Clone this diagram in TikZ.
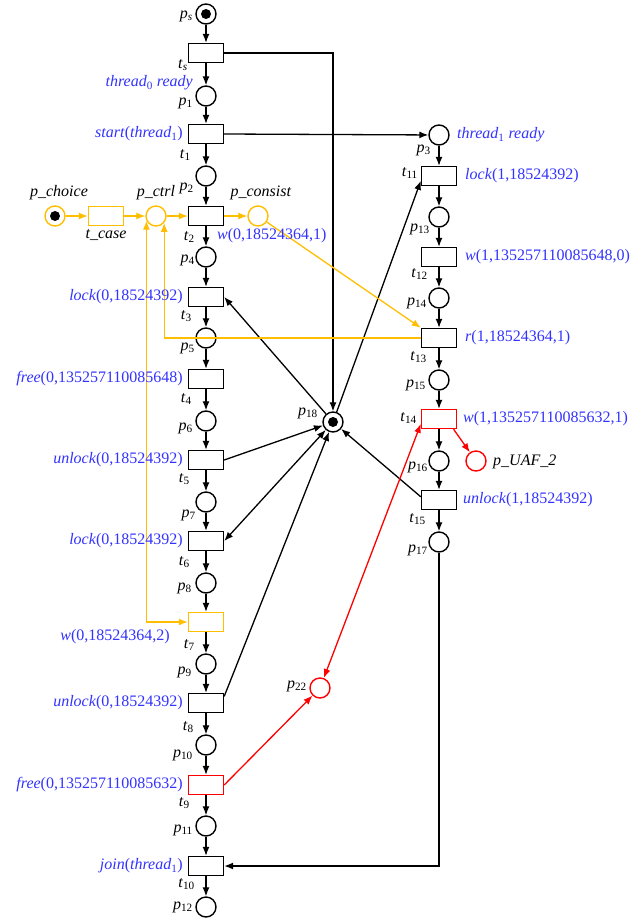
\documentclass[tikz,border=0pt]{standalone}
\usepackage{fontspec}
\setmainfont{Liberation Serif}
\usetikzlibrary{arrows.meta}
\definecolor{lblue}{HTML}{3333FF}
\definecolor{amber}{HTML}{FFBF00}
\definecolor{pred}{HTML}{FF0000}
\newcommand\plab[1]{\textit{p}\textsubscript{#1}}
\newcommand\tlab[1]{\textit{t}\textsubscript{#1}}
\tikzset{
  place/.style={circle,draw,line width=1.4pt,minimum size=20pt,inner sep=0pt},
  trans/.style={rectangle,draw,line width=1.4pt,minimum width=35pt,minimum height=19pt,inner sep=0pt},
  tok/.style={circle,fill=black,minimum size=10pt,inner sep=0pt},
  arc/.style={-{Latex[length=9pt,width=7pt]},line width=1.3pt},
  biarc/.style={{Latex[length=9pt,width=7pt]}-{Latex[length=9pt,width=7pt]},line width=1.3pt},
  lab/.style={font=\fontsize{16}{18}\selectfont,inner sep=0pt},
  fn/.style={lab,text=lblue},
}
\begin{document}
\begin{tikzpicture}[x=1pt,y=-1pt]
\useasboundingbox[fill=white] (0,0) rectangle (632,919);
% left column
\node[place] (ps) at (206,14) {}; \node[tok] (psd) at (ps) {};
\node[trans] (ts) at (206,53) {};
\node[place] (p1) at (206,96) {};
\node[trans] (t1) at (206,134) {};
\node[place] (p2) at (206,176) {};
\node[trans] (t2) at (206,216) {};
\node[place] (p4) at (206,257) {};
\node[trans] (t3) at (206,297) {};
\node[place] (p5) at (206,338) {};
\node[trans] (t4) at (206,379) {};
\node[place] (p6) at (206,421) {};
\node[trans] (t5) at (206,460) {};
\node[place] (p7) at (206,502) {};
\node[trans] (t6) at (206,541) {};
\node[place] (p8) at (206,583) {};
\node[trans,draw=amber] (t7) at (206,622) {};
\node[place] (p9) at (206,664) {};
\node[trans] (t8) at (206,703) {};
\node[place] (p10) at (206,745) {};
\node[trans,draw=pred] (t9) at (206,785) {};
\node[place] (p11) at (206,826) {};
\node[trans] (t10) at (206,866) {};
\node[place] (p12) at (206,907) {};
% right column
\node[place] (p3) at (439,135) {};
\node[trans] (t11) at (439,176) {};
\node[place] (p13) at (439,217) {};
\node[trans] (t12) at (439,257) {};
\node[place] (p14) at (439,298) {};
\node[trans] (t13) at (439,338) {};
\node[place] (p15) at (439,380) {};
\node[trans,draw=pred] (t14) at (439,419) {};
\node[place] (p16) at (439,461) {};
\node[trans] (t15) at (439,500) {};
\node[place] (p17) at (439,542) {};
\node[place,draw=pred] (puaf) at (476,461) {};
% shared places
\node[place] (p18) at (333,422) {}; \node[tok] (p18d) at (p18) {};
\node[place,draw=pred] (p22) at (320,688) {};
% orange part
\node[place,draw=amber] (pchoice) at (55,216) {}; \node[tok] (pchd) at (pchoice) {};
\node[trans,draw=amber] (tcase) at (106,216) {};
\node[place,draw=amber] (pctrl) at (156,216) {};
\node[place,draw=amber] (pconsist) at (258,216) {};

% column arcs
\foreach \a/\b in {ps/ts,ts/p1,p1/t1,t1/p2,p2/t2,t2/p4,p4/t3,t3/p5,p5/t4,t4/p6,p6/t5,t5/p7,p7/t6,t6/p8,p8/t7,t7/p9,p9/t8,t8/p10,p10/t9,t9/p11,p11/t10,t10/p12,
  p3/t11,t11/p13,p13/t12,t12/p14,p14/t13,t13/p15,p15/t14,t14/p16,p16/t15,t15/p17}
  \draw[arc] (\a) -- (\b);

% long black arcs
\draw[arc] (ts.east) -| (p18.north);
\draw[arc] (t1.east) -- (p3);
\draw[arc] (p18) -- (t11.-165);
\draw[arc] (p18) -- (t3.east);
\draw[arc] (t5.east) -- (p18);
\draw[biarc] (p18) -- (t6.east);
\draw[arc] (t8.20) -- (p18);
\draw[arc] (t15.170) -- (p18);
\draw[arc] (p17.south) |- (t10.east);

% red arcs
\draw[arc,pred] (t9.east) -- (p22);
\draw[biarc,pred] (p22) -- (t14.-165);
\draw[arc,pred] (t14.-35) -- (puaf);

% orange arcs
\draw[arc,amber] (pchoice) -- (tcase);
\draw[arc,amber] (tcase) -- (pctrl);
\draw[arc,amber] (pctrl) -- (t2);
\draw[arc,amber] (t2) -- (pconsist);
\draw[arc,amber] (pconsist) -- (t13.north west);
\draw[arc,amber] (t13.west) -- (t13.west -| pctrl.-40) -- (pctrl.-40);
\draw[biarc,amber] (t7.west) -- (t7.west -| pctrl.-154) -- (pctrl.-154);

% place labels (left)
\node[lab,anchor=east] (lps) at (193,16) {\textit{p}\textsubscript{\textit{s}}};
\node[lab,anchor=east] (lp1) at (193,103) {\plab{1}};
\node[lab,anchor=east] (lp2) at (194,188) {\plab{2}};
\node[lab,anchor=east] (lp4) at (195,260) {\plab{4}};
\node[lab,anchor=east] (lp5) at (195,348) {\plab{5}};
\node[lab,anchor=east] (lp6) at (193,428) {\plab{6}};
\node[lab,anchor=east] (lp7) at (196,515) {\plab{7}};
\node[lab,anchor=east] (lp8) at (192,588) {\plab{8}};
\node[lab,anchor=east] (lp9) at (192,672) {\plab{9}};
\node[lab,anchor=east] (lp10) at (193,755) {\plab{10}};
\node[lab,anchor=east] (lp11) at (193,830) {\plab{11}};
\node[lab,anchor=east] (lp12) at (193,907) {\plab{12}};
% transition labels (left)
\node[lab,anchor=east] (lts) at (188,65) {\textit{t}\textsubscript{\textit{s}}};
\node[lab,anchor=east] (lt1) at (191,155) {\tlab{1}};
\node[lab,anchor=east] (lt2) at (195,237) {\tlab{2}};
\node[lab,anchor=east] (lt3) at (192,316) {\tlab{3}};
\node[lab,anchor=east] (lt4) at (192,399) {\tlab{4}};
\node[lab,anchor=east] (lt5) at (190,479) {\tlab{5}};
\node[lab,anchor=east] (lt6) at (190,562) {\tlab{6}};
\node[lab,anchor=east] (lt7) at (195,645) {\tlab{7}};
\node[lab,anchor=east] (lt8) at (194,727) {\tlab{8}};
\node[lab,anchor=east] (lt9) at (190,803) {\tlab{9}};
\node[lab,anchor=east] (lt10) at (195,884) {\tlab{10}};
% function labels (left)
\node[fn,anchor=east] (f0) at (193,83) {\textit{thread}\textsubscript{0} \textit{ready}};
\node[fn,anchor=east] (f1) at (183,134) {\textit{start}(\textit{thread}\textsubscript{1})};
\node[fn,anchor=west] (f2) at (217,236) {\textit{w}(0,18524364,1)};
\node[fn,anchor=east] (f3) at (183,297) {\textit{lock}(0,18524392)};
\node[fn,anchor=east] (f4) at (183,379) {\textit{free}(0,135257110085648)};
\node[fn,anchor=east] (f5) at (183,460) {\textit{unlock}(0,18524392)};
\node[fn,anchor=east] (f6) at (183,541) {\textit{lock}(0,18524392)};
\node[fn,anchor=east] (f7) at (170,637) {\textit{w}(0,18524364,2)};
\node[fn,anchor=east] (f8) at (183,703) {\textit{unlock}(0,18524392)};
\node[fn,anchor=east] (f9) at (183,785) {\textit{free}(0,135257110085632)};
\node[fn,anchor=east] (f10) at (183,866) {\textit{join}(\textit{thread}\textsubscript{1})};
% right labels
\node[lab,anchor=east] (lp3) at (431,150) {\plab{3}};
\node[lab,anchor=east] (lt11) at (418,173) {\tlab{11}};
\node[lab,anchor=east] (lp13) at (430,229) {\plab{13}};
\node[lab,anchor=east] (lt12) at (428,274) {\tlab{12}};
\node[lab,anchor=east] (lp14) at (427,303) {\plab{14}};
\node[lab,anchor=east] (lt13) at (427,357) {\tlab{13}};
\node[lab,anchor=east] (lp15) at (426,385) {\plab{15}};
\node[lab,anchor=east] (lt14) at (417,418) {\tlab{14}};
\node[lab,anchor=east] (lp16) at (428,467) {\plab{16}};
\node[lab,anchor=east] (lt15) at (426,519) {\tlab{15}};
\node[lab,anchor=east] (lp17) at (428,550) {\plab{17}};
\node[lab,anchor=east] (lp18) at (318,413) {\plab{18}};
\node[lab,anchor=east] (lp22) at (307,686) {\plab{22}};
\node[lab,anchor=west] (lpuaf) at (493,462) {\textit{p\_UAF\_2}};
\node[fn,anchor=west] (g0) at (457,135) {\textit{thread}\textsubscript{1} \textit{ready}};
\node[fn,anchor=west] (g1) at (465,176) {\textit{lock}(1,18524392)};
\node[fn,anchor=west] (g2) at (465,257) {\textit{w}(1,135257110085648,0)};
\node[fn,anchor=west] (g3) at (465,338) {\textit{r}(1,18524364,1)};
\node[fn,anchor=west] (g4) at (463,419) {\textit{w}(1,135257110085632,1)};
\node[fn,anchor=west] (g5) at (463,500) {\textit{unlock}(1,18524392)};
% orange-part labels
\node[lab] (lpchoice) at (59,193) {\textit{p\_choice}};
\node[lab] (ltcase) at (106,235) {\textit{t\_case}};
\node[lab] (lpctrl) at (156,193) {\textit{p\_ctrl}};
\node[lab] (lpconsist) at (261,193) {\textit{p\_consist}};
\end{tikzpicture}
\end{document}
